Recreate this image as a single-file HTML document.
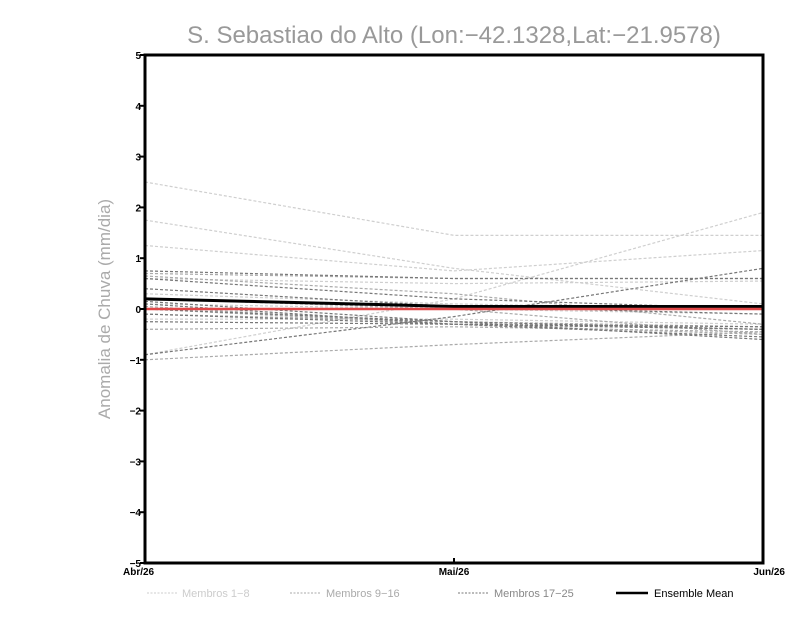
<!DOCTYPE html>
<html><head><meta charset="utf-8"><style>body{margin:0;background:#fff}svg{display:block}</style></head>
<body>
<svg id="chart" width="800" height="618" xmlns="http://www.w3.org/2000/svg" font-family="Liberation Sans, sans-serif">
<text x="454" y="43" text-anchor="middle" font-size="24" fill="#999">S. Sebastiao do Alto (Lon:−42.1328,Lat:−21.9578)</text>
<text transform="translate(110,309) rotate(-90)" text-anchor="middle" font-size="17" fill="#aaa">Anomalia de Chuva (mm/dia)</text>
<g id="series"></g>
<g id="axes"></g>
<g font-size="11" fill="#999">
<line x1="147" y1="593" x2="177" y2="593" stroke="#ccc" stroke-dasharray="2,1.5"/>
<text x="182" y="597" fill="#ccc">Membros 1−8</text>
<line x1="290" y1="593" x2="320" y2="593" stroke="#aaa" stroke-dasharray="2,1.5"/>
<text x="326" y="597" fill="#aaa">Membros 9−16</text>
<line x1="458" y1="593" x2="488" y2="593" stroke="#777" stroke-dasharray="2,1.5"/>
<text x="494" y="597" fill="#888">Membros 17−25</text>
<line x1="616" y1="593" x2="648" y2="593" stroke="#000" stroke-width="2.5"/>
<text x="654" y="597" fill="#000">Ensemble Mean</text>
</g>
</svg>
<script>
const categories = ["Abr/26","Mai/26","Jun/26"];
const yTicks = [-5,-4,-3,-2,-1,0,1,2,3,4,5];
const group1 = [[2.5,1.45,1.45],[1.75,0.8,0.1],[1.25,0.75,1.15],[-0.9,0.2,1.9],[0.6,0.5,0.55],[0.3,0.1,0.0],[-0.2,-0.2,-0.3],[0.1,0.0,-0.1]];
const group2 = [[0.7,0.6,0.6],[0.65,0.3,-0.3],[0.05,-0.3,-0.4],[-0.4,-0.35,-0.45],[-1.0,-0.7,-0.45],[0.0,-0.3,-0.5],[-0.1,-0.25,-0.35],[0.2,0.0,-0.5]];
const group3 = [[0.75,0.6,0.6],[0.6,0.2,0.0],[-0.9,-0.15,0.8],[0.15,-0.25,-0.4],[0.1,-0.3,-0.55],[-0.25,-0.3,-0.35],[0.0,-0.25,-0.6],[0.4,0.05,-0.1],[-0.1,-0.3,-0.4]];
const ensembleMean = [0.2,0.05,0.05];
const zeroLine = [0,0,0];
const NS="http://www.w3.org/2000/svg";
const L=145,R=763,T=55,B=563;
const x=i=>L+(R-L)*i/(categories.length-1);
const y=v=>T+(B-T)*(5-v)/10;
const S=document.getElementById('series'), A=document.getElementById('axes');
function mk(tag,at,parent){const e=document.createElementNS(NS,tag);for(const k in at)e.setAttribute(k,at[k]);parent.appendChild(e);return e;}
function pts(a){return a.map((v,i)=>x(i)+','+y(v)).join(' ');}
[[group1,'#cfcfcf','member-line-light'],[group2,'#aaaaaa','member-line-medium'],[group3,'#777777','member-line-dark']].forEach(([g,c,n])=>{
 g.forEach(s=>{const p=mk('polyline',{points:pts(s),fill:'none',stroke:c,'stroke-width':1.2,'stroke-dasharray':'3,2'},S);
 
 });
});
const m=mk('polyline',{points:pts(ensembleMean),fill:'none',stroke:'#000','stroke-width':3},S);


const z=mk('polyline',{points:pts(zeroLine),fill:'none',stroke:'#e04848','stroke-width':2.5},S);


const fr=mk('rect',{x:L,y:T,width:R-L,height:B-T,fill:'none',stroke:'#000','stroke-width':3},A);


yTicks.forEach(v=>{
 mk('line',{x1:L,x2:L-5,y1:y(v),y2:y(v),stroke:'#000','stroke-width':2},A);
 const t=mk('text',{x:L-4,y:y(v)+4,'text-anchor':'end','font-size':10,'font-weight':'bold'},A);
 t.textContent=v<0?'−'+(-v):String(v);
 
 
});
categories.forEach((c,i)=>{
 mk('line',{x1:x(i),x2:x(i),y1:B,y2:B-5,stroke:'#000','stroke-width':2},A);
 const t=mk('text',{x:i==0?x(i)-22:(i==categories.length-1?x(i)+22:x(i)),y:B+12,'text-anchor':i==0?'start':(i==categories.length-1?'end':'middle'),'font-size':10,'font-weight':'bold'},A);
 t.textContent=c;
 
 
});
</script>
</body></html>
